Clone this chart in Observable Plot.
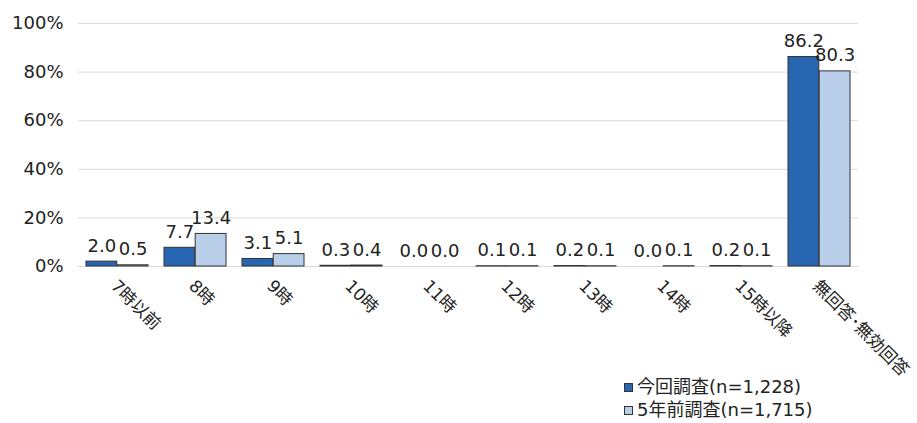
<!DOCTYPE html>
<html><head><meta charset="utf-8">
<script src="https://cdn.jsdelivr.net/npm/d3@7"></script>
<script src="https://cdn.jsdelivr.net/npm/@observablehq/plot@0.6"></script>
<style>
body{margin:0;background:#fff;font-family:"DejaVu Sans","Noto Sans CJK JP",sans-serif;}
#wrap{position:relative;width:917px;height:423px;}
.leg{position:absolute;left:624px;font-size:18px;color:#222;display:flex;align-items:center;line-height:22px;}
.sw{width:7px;height:7px;border:1px solid #333;margin-right:4px;}
</style></head>
<body><div id="wrap"></div>
<script>
const categories = ["7時以前","8時","9時","10時","11時","12時","13時","14時","15時以降","無回答･無効回答"];
const seriesNames = ["今回調査(n=1,228)","5年前調査(n=1,715)"];
const current = [2.0,7.7,3.1,0.3,0.0,0.1,0.2,0.0,0.2,86.2];
const previous = [0.5,13.4,5.1,0.4,0.0,0.1,0.1,0.1,0.1,80.3];
const colors = ["#2866b1","#b8cee9"];
const yTicks = [0,20,40,60,80,100];

const curData = categories.map((c,i)=>({cat:c, value:current[i]}));
const prevData = categories.map((c,i)=>({cat:c, value:previous[i]}));
const FONT = '"DejaVu Sans","Noto Sans CJK JP",sans-serif';
const W = 917, ML = 78, MR = 59;
const step = (W-ML-MR)/(categories.length - 0.2 + 0.2);
const half = step*0.8/2;

const chart = Plot.plot({
  width:W, height:423,
  marginLeft:ML, marginRight:MR, marginTop:23, marginBottom:157,
  style:{fontFamily:FONT, color:"#222", background:"#fff"},
  x:{domain:categories, paddingInner:0.2, paddingOuter:0.1, axis:null},
  y:{domain:[0,100], axis:null},
  marks:[
    Plot.gridY(yTicks,{stroke:"#d9d9d9", strokeOpacity:1}),
    Plot.axisY({ticks:yTicks, tickSize:0, tickPadding:15, tickFormat:d=>d+"%", fontSize:18, label:null, fill:"#222"}),
    Plot.barY(curData,{x:"cat", y:"value", fill:colors[0], stroke:"#333", strokeWidth:1, insetRight:half}),
    Plot.barY(prevData,{x:"cat", y:"value", fill:colors[1], stroke:"#333", strokeWidth:1, insetLeft:half}),
    Plot.text(curData,{x:"cat", y:"value", text:d=>d.value.toFixed(1), lineAnchor:"bottom", dy:-10, dx:-half/2, fontSize:18, fill:"#222"}),
    Plot.text(prevData,{x:"cat", y:"value", text:d=>d.value.toFixed(1), lineAnchor:"bottom", dy:-10, dx:half/2, fontSize:18, fill:"#222"}),
    Plot.text(categories,{x:d=>d, text:d=>d, frameAnchor:"bottom", rotate:45, textAnchor:"start", lineAnchor:"top", dy:12, dx:1, fontSize:17, fill:"#222"})
  ]
});
const wrap = document.getElementById("wrap");
wrap.appendChild(chart);
seriesNames.forEach((s,i)=>{
  const d = document.createElement("div");
  d.className="leg";
  d.style.top = (376 + i*23) + "px";
  const sw = document.createElement("span");
  sw.className="sw"; sw.style.background = colors[i];
  d.appendChild(sw);
  d.appendChild(document.createTextNode(s));
  wrap.appendChild(d);
});
</script></body></html>
